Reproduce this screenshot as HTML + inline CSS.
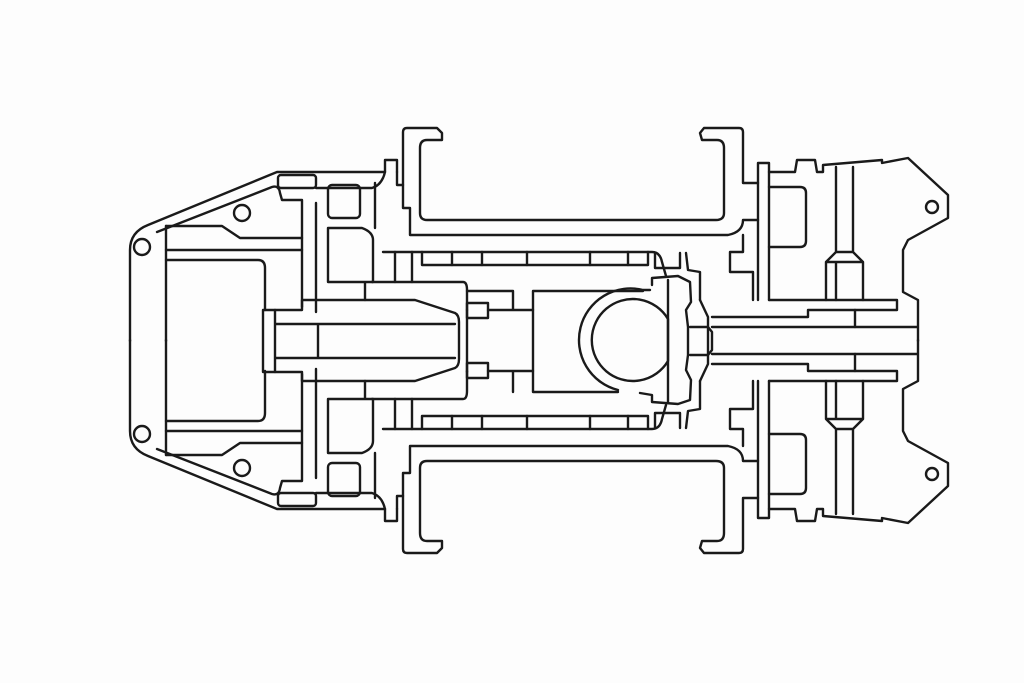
<!DOCTYPE html>
<html><head><meta charset="utf-8"><style>
html,body{margin:0;padding:0;background:#fdfdfd;}
svg{display:block;}
</style></head><body>
<svg width="1024" height="683" viewBox="0 0 1024 683" xmlns="http://www.w3.org/2000/svg">
<rect width="1024" height="683" fill="#fdfdfd"/>
<defs>
<g id="top" fill="none" stroke="#1a1a1a" stroke-width="2.4" stroke-linejoin="round" stroke-linecap="round">
  <path d="M385,172 L277,172 L148,225 Q130,232 130,250 L130,341"/>
  <path d="M157,232 L272,187 Q279,185 280,193 L282,200 L302,200 L302,307"/>
  <path d="M166,226 L166,341"/>
  <path d="M166,226 L222,226 L240,238 L302,238"/>
  <path d="M166,250 L302,250"/>
  <path d="M166,260 L258,260 Q265,260 265,268 L265,310"/>
  <circle cx="142" cy="247" r="8"/>
  <circle cx="242" cy="213" r="8"/>
  <rect x="278" y="175" width="38" height="13" rx="3"/>
  <path d="M316,203 L316,312"/>
  <rect x="328" y="185" width="32" height="33" rx="4"/>
  <path d="M328,228 L362,228 Q373,232 373,240 L373,282 L328,282 Z"/>
  <path d="M375,183 L375,228"/>
  <path d="M316,188 L372,188 Q382,185 385,172 L385,160 L397,160 L397,172"/>
  <path d="M372,282 L463,282 Q467,282 467,290 L467,310"/>
  <path d="M365,283 L365,300"/>
  <path d="M397,172 L397,185 L403,185 L403,132 Q403,128 407,128 L437,128 L442,133 L442,140 L427,140 Q420,140 420,148 L420,213 Q420,220 427,220 L716,220 Q724,220 724,213 L724,148 Q724,140 717,140 L702,140 L700,133 L704,128 L739,128 Q743,128 743,132 L743,183 L758,183"/>
  <path d="M403,185 L403,208 L410,208 L410,225 L410,235 L728,235 Q743,232 743,220 L758,220"/>
  <path d="M743,235 L743,252 L730,252 L730,272 L753,272 L753,300"/>
  <path d="M383,252 L652,252 Q660,252 662,262 L666,276"/>
  <path d="M422,252 L422,265 L648,265 L648,252"/>
  <path d="M452,252 L452,265 M482,252 L482,265 M527,252 L527,265 M590,252 L590,265 M628,252 L628,265"/>
  <path d="M655,253 L655,268 L680,268 L680,253"/>
  <path d="M395,252 L395,282 M412,252 L412,282"/>
  <path d="M686,253 L688,270 L700,272 L700,300"/>
  <path d="M758,300 L758,163 L769,163 L769,300"/>
  <path d="M769,172 L795,172 L797,160 L815,160 L817,172 L823,172 L823,165 L882,160 L882,163 L908,158 L948,195 L948,218 L908,240 L903,250 L903,292 L918,300 L918,341"/>
  <circle cx="932" cy="207" r="6"/>
  <path d="M769,187 L800,187 Q806,187 806,193 L806,241 Q806,247 800,247 L769,247"/>
  <path d="M836,167 L836,252 L826,262 L826,300 M853,167 L853,252 L863,262 L863,300 M836,252 L853,252 M826,262 L863,262 M836,262 L836,300"/>
  <path d="M769,300 L897,300 L897,310 L808,310 L808,317 L712,317"/>
  <path d="M855,310 L855,327 L917,327"/>
  <path d="M712,327 L855,327"/>
</g>
</defs>
<use href="#top"/>
<use href="#top" transform="matrix(1 0 0 -1 0 681)"/>
<g fill="none" stroke="#1a1a1a" stroke-width="2.4" stroke-linejoin="round" stroke-linecap="round">
  <path d="M263,310 L302,310 L302,300 L355,300 L355,300 L415,300 L455,313 Q459,315 459,322 L459,359 Q459,366 455,368 L415,381 L355,381 L302,381 L302,372 L263,372 Z"/>
  <path d="M275,310 L275,372 M318,324 L318,358 M275,324 L455,324 M275,358 L455,358"/>
  <path d="M467,310 L467,372"/>
  <rect x="467" y="303" width="21" height="15"/>
  <rect x="467" y="363" width="21" height="15"/>
  <path d="M488,310 L533,310 M488,371 L533,371 M513,291 L513,310 M513,371 L513,392 M467,291 L513,291"/>
  <path d="M643,291 L533,291 L533,392 L618,392"/>
  <path d="M650,290 L643,290 A51,51 0 0 0 618,390"/>
  <path d="M668,319 A41,41 0 1 0 668,361 Z"/>
  <path d="M652,285 L652,278 L678,276 L690,282 L691,302 L686,310 L688,327 L688,355 L686,370 L691,380 L690,400 L678,404 L652,402 L652,395 L640,393"/>
  <path d="M668,280 L668,402"/>
  <path d="M690,327 L708,327 L712,332 L712,350 L708,355 L690,355"/>
  <path d="M700,300 L708,317 L708,364 L700,381"/>
</g>
</svg>
</body></html>
